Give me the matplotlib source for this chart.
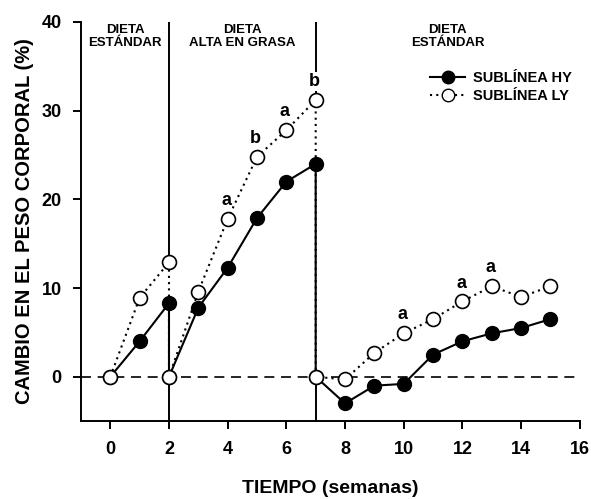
import matplotlib
matplotlib.use("Agg")
import matplotlib.pyplot as plt
from matplotlib.lines import Line2D

plt.rcParams['font.family'] = ['Liberation Sans', 'DejaVu Sans']
plt.rcParams['font.weight'] = 'bold'

# Data (weeks repeated at diet changes where values reset to 0)
weeks = [0, 1, 2, 2, 3, 4, 5, 6, 7, 7, 8, 9, 10, 11, 12, 13, 14, 15]
hy = [0, 4.0, 8.3, 0, 7.8, 12.3, 17.9, 22.0, 24.0, 0, -3.0, -1.0, -0.8, 2.5, 4.0, 4.9, 5.5, 6.5]
ly = [0, 8.9, 12.9, 0, 9.6, 17.8, 24.8, 27.8, 31.2, 0, -0.3, 2.7, 4.9, 6.5, 8.5, 10.2, 9.0, 10.2]

diet_changes = [2, 7]
sig_weeks = [4, 5, 6, 7, 10, 12, 13]
sig_letters = ['a', 'b', 'a', 'b', 'a', 'a', 'a']

phase_labels = ["DIETA\nESTÁNDAR", "DIETA\nALTA EN GRASA", "DIETA\nESTÁNDAR"]
phase_bounds = [-1, 2, 7, 16]

xticks = [0, 2, 4, 6, 8, 10, 12, 14, 16]
yticks = [0, 10, 20, 30, 40]

fig = plt.figure(figsize=(5.91, 4.99), dpi=100)
ax = fig.add_axes([0.137, 0.156, 0.844, 0.800])
ax.set_xlim(-1, 16)
ax.set_ylim(-5, 40)

ax.axhline(0, color='black', lw=1.2, ls=(0, (6, 4)), zorder=1)

# divider lines
ymin, ymax = ax.get_ylim()
for wk in diet_changes:
    idx = max(i for i, w in enumerate(weeks) if w == wk and ly[i] != 0)
    ax.vlines(wk, ymin, 0, color='black', lw=1.4, zorder=1)
    ax.vlines(wk, ly[idx], ymax, color='black', lw=1.4, zorder=1)

ax.plot(weeks, hy, color='black', lw=1.5, marker='o', ms=10,
        mfc='black', mec='black', zorder=3)
ax.plot(weeks, ly, color='black', lw=1.5, ls=(0, (1, 2)), marker='o', ms=10,
        mfc='white', mec='black', mew=1.2, zorder=4)

for wk, lt in zip(sig_weeks, sig_letters):
    idx = max(i for i, w in enumerate(weeks) if w == wk and ly[i] != 0)
    ax.annotate(lt, (wk, ly[idx]), xytext=(-1, 10), textcoords='offset points',
                ha='center', va='baseline', fontsize=13, fontweight='bold',
                bbox=dict(boxstyle='square,pad=0.05', fc='white', ec='none'),
                zorder=5)

for i, lab in enumerate(phase_labels):
    xc = (phase_bounds[i] + phase_bounds[i + 1]) / 2
    ax.text(xc, 39.8, lab, ha='center', va='top', fontsize=9.5,
            fontweight='bold', linespacing=1.1)

ax.set_xticks(xticks)
ax.set_yticks(yticks)
ax.tick_params(direction='out', length=6, width=1.4, labelsize=13, pad=8)
for lbl in ax.get_xticklabels() + ax.get_yticklabels():
    lbl.set_fontweight('bold')
for s in ['top', 'right']:
    ax.spines[s].set_visible(False)
for s in ['left', 'bottom']:
    ax.spines[s].set_linewidth(1.4)

ax.set_xlabel("TIEMPO (semanas)", fontsize=14, fontweight='bold', labelpad=16)
ax.set_ylabel("CAMBIO EN EL PESO CORPORAL (%)", fontsize=14.5, fontweight='bold', labelpad=5)

handles = [
    Line2D([], [], color='black', lw=1.5, marker='o', ms=9, mfc='black', mec='black'),
    Line2D([], [], color='black', lw=1.5, ls=(0, (1, 2)), marker='o', ms=9, mfc='white', mec='black'),
]
ax.legend(handles, ["SUBLÍNEA HY", "SUBLÍNEA LY"], loc='upper right',
          bbox_to_anchor=(1.01, 0.91), frameon=False,
          handlelength=2.4, handletextpad=0.5, labelspacing=0.3,
          prop={'weight': 'bold', 'size': 10.5})

fig.savefig("out.png", dpi=100)
